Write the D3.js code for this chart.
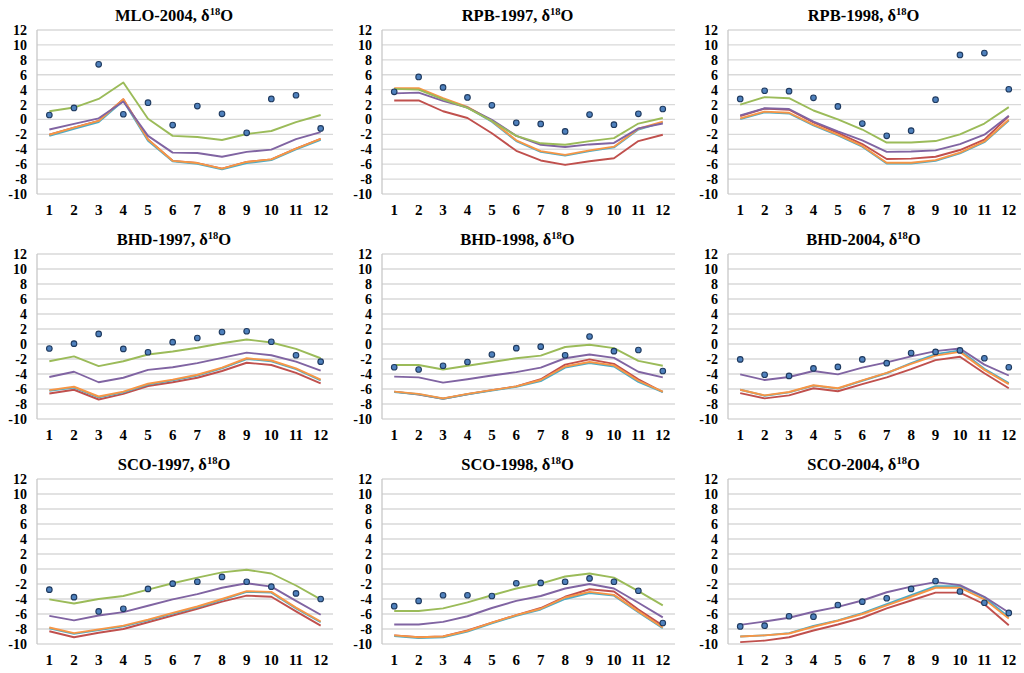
<!DOCTYPE html>
<html>
<head>
<meta charset="utf-8">
<script src="https://cdn.jsdelivr.net/npm/d3@7"></script>
<style>
  body { margin: 0; background: #fff; }
  svg { display: block; }
  .title { font-family: "Liberation Serif", "Times New Roman", serif; font-weight: bold; font-size: 16.5px; }
  .tick text { font-family: "Liberation Serif", "Times New Roman", serif; font-weight: bold; }
</style>
</head>
<body>
<svg id="chart" width="1024" height="673"></svg>
<script>
const months = [1, 2, 3, 4, 5, 6, 7, 8, 9, 10, 11, 12];
const yTicks = [-10, -8, -6, -4, -2, 0, 2, 4, 6, 8, 10, 12];
const sites = ["MLO-2004", "RPB-1997", "RPB-1998", "BHD-1997", "BHD-1998", "BHD-2004", "SCO-1997", "SCO-1998", "SCO-2004"];

// observed values (dots), one row per panel
const observed = [
  [0.6, 1.55, 7.4, 0.7, 2.25, -0.75, 1.8, 0.75, -1.8, 2.75, 3.25, -1.2],
  [3.7, 5.7, 4.3, 2.95, 1.9, -0.45, -0.6, -1.6, 0.65, -0.7, 0.75, 1.4],
  [2.75, 3.85, 3.8, 2.9, 1.75, -0.55, -2.2, -1.5, 2.65, 8.65, 8.9, 4.05],
  [-0.6, 0.05, 1.35, -0.65, -1.1, 0.25, 0.8, 1.6, 1.7, 0.3, -1.5, -2.35],
  [-3.1, -3.4, -2.9, -2.4, -1.4, -0.55, -0.35, -1.5, 1.0, -0.95, -0.8, -3.6],
  [-2.05, -4.1, -4.25, -3.25, -3.05, -2.05, -2.55, -1.2, -1.05, -0.85, -1.9, -3.1],
  [-2.75, -3.75, -5.65, -5.3, -2.65, -1.95, -1.7, -1.05, -1.7, -2.35, -3.25, -4.0],
  [-4.95, -4.25, -3.5, -3.5, -3.6, -1.9, -1.85, -1.7, -1.25, -1.7, -2.9, -7.2],
  [-7.65, -7.55, -6.3, -6.35, -4.8, -4.35, -3.9, -2.65, -1.6, -3.0, -4.5, -5.85]
];

const redSeries = [
  [-2.05, -1.1, -0.2, 2.7, -2.7, -5.55, -5.85, -6.6, -5.7, -5.35, -3.9, -2.6],
  [2.55, 2.55, 1.1, 0.2, -1.85, -4.2, -5.5, -6.1, -5.6, -5.2, -2.9, -2.05],
  [0.45, 1.45, 1.3, -0.4, -1.8, -3.3, -5.3, -5.25, -5.0, -4.1, -2.7, 0.45],
  [-6.6, -6.1, -7.4, -6.65, -5.6, -5.1, -4.5, -3.6, -2.5, -2.8, -3.85, -5.25],
  [-6.35, -6.75, -7.3, -6.7, -6.15, -5.65, -4.7, -2.75, -2.05, -2.65, -4.7, -6.4],
  [-6.55, -7.25, -6.85, -5.9, -6.3, -5.35, -4.45, -3.35, -2.15, -1.7, -3.9, -5.9],
  [-8.3, -9.1, -8.5, -8.0, -7.1, -6.2, -5.3, -4.35, -3.55, -3.7, -5.65, -7.55],
  [-8.85, -9.1, -9.0, -8.2, -7.15, -6.15, -5.2, -3.7, -2.7, -3.0, -5.4, -7.55],
  [-9.75, -9.55, -9.1, -8.2, -7.4, -6.5, -5.25, -4.2, -3.15, -3.15, -4.7, -7.5]
];

const cyanSeries = [
  [-2.2, -1.25, -0.35, 2.5, -2.85, -5.6, -5.95, -6.7, -5.85, -5.45, -4.0, -2.75],
  [4.1, 4.1, 2.75, 1.6, -0.3, -2.9, -4.35, -4.85, -4.25, -3.75, -1.35, -0.4],
  [0.05, 0.95, 0.8, -0.8, -2.15, -3.65, -5.9, -5.9, -5.55, -4.55, -3.05, -0.15],
  [-6.25, -5.8, -7.1, -6.45, -5.4, -4.85, -4.2, -3.25, -2.0, -2.3, -3.35, -4.85],
  [-6.4, -6.7, -7.3, -6.7, -6.2, -5.7, -4.95, -3.15, -2.55, -3.0, -5.05, -6.4],
  [-6.1, -6.9, -6.45, -5.55, -5.95, -4.9, -3.9, -2.55, -1.35, -0.85, -3.3, -5.2],
  [-7.9, -8.65, -8.15, -7.65, -6.85, -5.95, -5.1, -4.1, -3.05, -3.15, -5.25, -7.1],
  [-8.95, -9.2, -9.1, -8.35, -7.25, -6.25, -5.4, -4.0, -3.2, -3.55, -5.75, -7.9],
  [-9.0, -8.85, -8.55, -7.6, -6.85, -5.9, -4.7, -3.5, -2.3, -2.3, -3.8, -6.4]
];

const orangeSeries = [
  [-2.05, -1.1, -0.2, 2.7, -2.7, -5.55, -5.85, -6.6, -5.7, -5.35, -3.9, -2.6],
  [4.2, 4.2, 2.85, 1.7, -0.2, -2.8, -4.25, -4.75, -4.15, -3.65, -1.25, -0.3],
  [0.15, 1.05, 0.9, -0.7, -2.05, -3.55, -5.8, -5.8, -5.45, -4.45, -2.95, -0.05],
  [-6.15, -5.7, -7.0, -6.35, -5.3, -4.75, -4.1, -3.15, -1.9, -2.2, -3.25, -4.75],
  [-6.35, -6.65, -7.25, -6.65, -6.15, -5.65, -4.8, -3.0, -2.4, -2.85, -4.9, -6.35],
  [-6.1, -6.85, -6.4, -5.5, -5.9, -4.85, -3.85, -2.65, -1.55, -1.05, -3.45, -5.35],
  [-7.8, -8.55, -8.05, -7.55, -6.75, -5.85, -5.0, -4.0, -2.95, -3.05, -5.15, -7.0],
  [-8.85, -9.1, -9.0, -8.25, -7.15, -6.15, -5.3, -3.8, -3.05, -3.45, -5.65, -7.8],
  [-9.0, -8.85, -8.6, -7.7, -6.9, -6.0, -4.85, -3.7, -2.5, -2.5, -4.05, -6.6]
];

const purpleSeries = [
  [-1.35, -0.6, 0.15, 2.4, -2.2, -4.45, -4.5, -5.0, -4.35, -4.05, -2.65, -1.7],
  [3.5, 3.6, 2.5, 1.6, -0.05, -2.2, -3.4, -3.7, -3.35, -3.15, -1.2, -0.55],
  [0.55, 1.5, 1.4, -0.3, -1.6, -2.8, -4.35, -4.3, -4.15, -3.3, -2.05, 0.5],
  [-4.4, -3.7, -5.1, -4.5, -3.45, -3.1, -2.55, -1.85, -1.15, -1.5, -2.35, -3.55],
  [-4.35, -4.45, -5.15, -4.7, -4.2, -3.75, -3.15, -1.9, -1.4, -1.85, -3.7, -4.45],
  [-4.05, -4.8, -4.4, -3.6, -4.05, -3.15, -2.45, -1.65, -0.95, -0.6, -2.75, -4.2],
  [-6.25, -6.85, -6.2, -5.75, -4.9, -4.05, -3.35, -2.5, -1.9, -2.35, -4.25, -6.1],
  [-7.4, -7.4, -7.05, -6.3, -5.2, -4.25, -3.6, -2.6, -2.0, -2.6, -4.5, -6.45],
  [-7.45, -7.0, -6.5, -5.7, -5.05, -4.2, -3.1, -2.35, -1.75, -2.15, -3.7, -5.8]
];

// green is not visible in BHD-2004 and SCO-2004
const greenSeries = [
  [1.1, 1.6, 2.75, 4.95, 0.1, -2.2, -2.35, -2.75, -1.95, -1.55, -0.35, 0.6],
  [4.1, 4.0, 2.7, 1.55, -0.2, -2.2, -3.2, -3.4, -2.9, -2.5, -0.55, 0.2],
  [2.0, 3.0, 2.85, 1.2, 0.0, -1.35, -3.1, -3.1, -2.9, -2.0, -0.55, 1.65],
  [-2.3, -1.65, -2.95, -2.3, -1.4, -1.0, -0.5, 0.1, 0.6, 0.2, -0.65, -1.9],
  [-2.8, -2.8, -3.4, -2.9, -2.4, -1.9, -1.55, -0.4, -0.1, -0.55, -2.25, -2.9],
  [],
  [-4.05, -4.6, -4.0, -3.6, -2.75, -1.9, -1.15, -0.45, -0.1, -0.6, -2.2, -4.05],
  [-5.6, -5.6, -5.25, -4.45, -3.5, -2.6, -1.95, -1.0, -0.6, -1.15, -2.95, -4.85],
  []
];

const lineSeries = [
  { values: redSeries, color: "#c0504d" },
  { values: cyanSeries, color: "#4bacc6" },
  { values: orangeSeries, color: "#f79646" },
  { values: purpleSeries, color: "#8064a2" },
  { values: greenSeries, color: "#9bbb59" }
];

const colLeft = [37, 382, 728];
const colWidth = [296, 293, 293];
const rowTop = [30, 254, 479];
const rowHeight = [164, 165, 165];

let svg = d3.select("#chart");

sites.forEach(function (site, i) {
  let col = i % 3, row = Math.floor(i / 3);
  let w = colWidth[col], h = rowHeight[row];
  let g = svg.append("g").attr("transform", `translate(${colLeft[col]},${rowTop[row]})`);

  let x = d3.scaleBand().domain(months).range([0, w]);
  let y = d3.scaleLinear().domain([-10, 12]).range([h, 0]);

  // gridlines
  g.append("g")
    .selectAll("line")
    .data(yTicks)
    .join("line")
    .attr("x1", 0).attr("x2", w)
    .attr("y1", d => y(d)).attr("y2", d => y(d))
    .attr("stroke", "#d9d9d9")
    .attr("stroke-width", 1.3);

  g.append("line")
    .attr("x1", 0).attr("x2", 0).attr("y1", 0).attr("y2", h)
    .attr("stroke", "#c8c8c8").attr("stroke-width", 1.3);

  // y axis labels (plain hyphen as in the original)
  let yAxis = g.append("g")
    .call(d3.axisLeft(y).tickValues(yTicks).tickFormat(d => String(d)).tickSize(0).tickPadding(10));
  yAxis.select(".domain").remove();
  yAxis.selectAll("text").attr("font-size", 14).attr("fill", "#000");

  // x axis labels
  let xAxis = g.append("g")
    .attr("transform", `translate(0,${h})`)
    .call(d3.axisBottom(x).tickSize(0).tickPadding(10));
  xAxis.select(".domain").remove();
  xAxis.selectAll("text").attr("font-size", 15).attr("fill", "#000");

  let line = d3.line()
    .x((d, j) => x(months[j]) + x.bandwidth() / 2)
    .y(d => y(d));

  lineSeries.forEach(function (s) {
    let vals = s.values[i];
    if (!vals.length) return;
    g.append("path")
      .datum(vals)
      .attr("d", line)
      .attr("fill", "none")
      .attr("stroke", s.color)
      .attr("stroke-width", 1.9)
      .attr("stroke-linejoin", "round");
  });

  g.append("g")
    .selectAll("circle")
    .data(observed[i])
    .join("circle")
    .attr("cx", (d, j) => x(months[j]) + x.bandwidth() / 2)
    .attr("cy", d => y(d))
    .attr("r", 2.8)
    .attr("fill", "#4f81bd")
    .attr("stroke", "#1f3a5f")
    .attr("stroke-width", 1.1);

  // title, e.g. "MLO-2004, δ18O"
  let title = g.append("text")
    .attr("class", "title")
    .attr("x", w / 2 - 11)
    .attr("y", -9)
    .attr("text-anchor", "middle");
  title.append("tspan").text(site + ", δ");
  title.append("tspan").attr("font-size", 10.5).attr("dy", -6).text("18");
  title.append("tspan").attr("dy", 6).text("O");
});
</script>
</body>
